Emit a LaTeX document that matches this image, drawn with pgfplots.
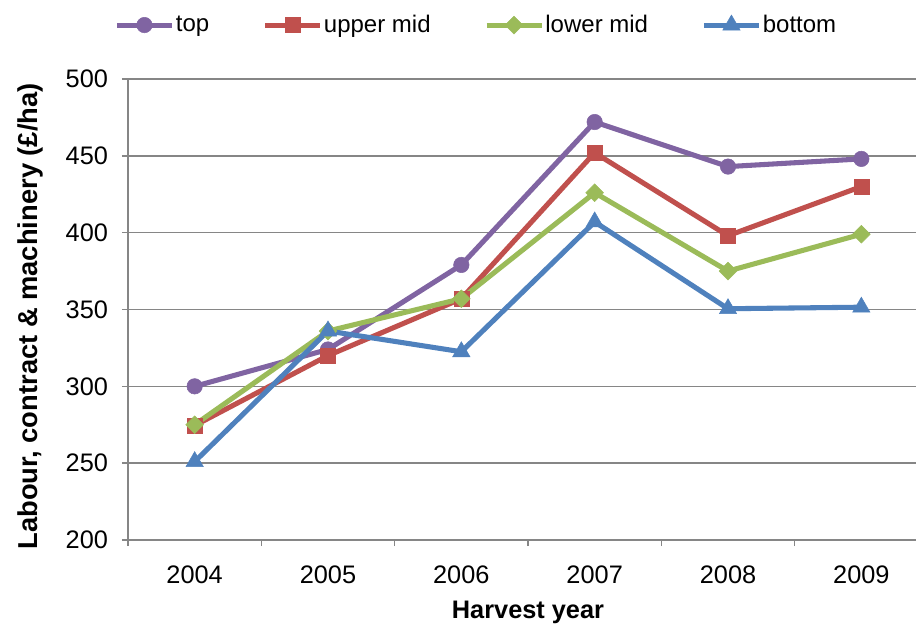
\documentclass[border=0pt]{standalone}
\usepackage{fontspec}
\setmainfont{Liberation Sans}
\usepackage{pgfplots}
\pgfplotsset{compat=1.18}
\definecolor{cTop}{HTML}{8064A2}
\definecolor{cUp}{HTML}{C0504D}
\definecolor{cLow}{HTML}{9BBB59}
\definecolor{cBot}{HTML}{4F81BD}
\definecolor{cGrid}{HTML}{868686}
\begin{document}
\begin{tikzpicture}
\begin{axis}[
  at={(0,0)}, anchor=south west,
  scale only axis, width=600pt, height=345.75pt,
  xmin=-0.5, xmax=5.5, ymin=200, ymax=500,
  axis x line*=bottom, axis y line*=left,
  axis line style={cGrid, line width=1.1pt},
  xtick={0,1,2,3,4,5},
  xticklabels={2004,2005,2006,2007,2008,2009},
  ytick={200,250,...,500},
  ymajorgrids, grid style={cGrid, line width=1.1pt},
  tick align=outside, major tick length=4.5pt, minor tick length=4.5pt,
  major x tick style={draw=none},
  minor xtick={-0.5,0.5,1.5,2.5,3.5,4.5,5.5},
  minor x tick style={cGrid, line width=1.1pt},
  ytick style={cGrid, line width=1.1pt},
  /pgf/number format/assume math mode=true,
  ticklabel style={font=\fontsize{19}{22}\selectfont},
  xticklabel style={yshift=-11pt},
  yticklabel style={xshift=-7pt},
  xlabel={Harvest year},
  xlabel style={font=\bfseries\fontsize{19}{22}\selectfont, at={(axis description cs:0.5,0)}, anchor=center, yshift=-54pt},
  ylabel={Labour, contract \& machinery (£/ha)},
  ylabel style={font=\bfseries\fontsize{20.5}{24}\selectfont, at={(axis description cs:-0.1225,0.485)}, anchor=center},
  legend columns=4,
  legend cell align=left,
  legend style={at={(rel axis cs:0.435,1.117)}, anchor=center, draw=none, fill=none,
    font=\fontsize{18}{20}\selectfont, nodes={inner sep=1pt},
    /tikz/every even column/.append style={column sep=39pt}},
  legend image code/.code={\draw[mark repeat=2,mark phase=2] plot coordinates {(0pt,0pt) (20.6pt,0pt) (41.25pt,0pt)};},
]
\addplot[cTop, line width=3.8pt, mark=*, mark size=5.8pt, mark options={line width=0.4pt, fill=cTop}]
  coordinates {(0,300) (1,324) (2,379) (3,472) (4,443) (5,448)};
\addlegendentry{top}
\addplot[cUp, line width=3.8pt, mark=square*, mark size=5.6pt, mark options={line width=0.4pt, fill=cUp}]
  coordinates {(0,274.5) (1,320) (2,357) (3,452) (4,398) (5,430)};
\addlegendentry{upper mid}
\addplot[cLow, line width=3.8pt, mark=square*, mark size=4.7pt, mark options={line width=0.4pt, fill=cLow, rotate=45}]
  coordinates {(0,275) (1,336) (2,357) (3,426) (4,375) (5,399)};
\addlegendentry{lower mid}
\addplot[cBot, line width=3.8pt, mark=triangle*, mark size=7.5pt, mark options={line width=0.4pt, fill=cBot}]
  coordinates {(0,251) (1,336) (2,322.5) (3,407) (4,350.5) (5,351.5)};
\addlegendentry{bottom}
\end{axis}
\pgfresetboundingbox
\path[use as bounding box] (-96pt,-66pt) rectangle (591pt,405pt);
\end{tikzpicture}
\end{document}
